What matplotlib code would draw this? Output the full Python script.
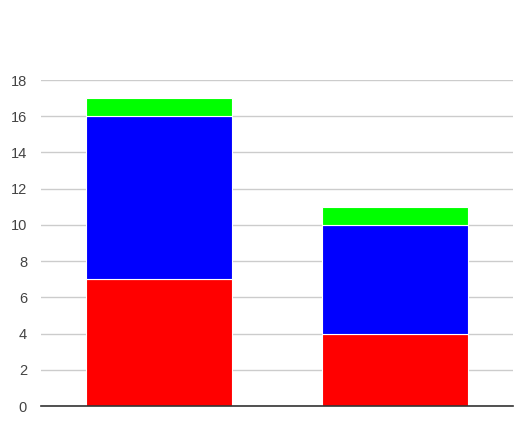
import matplotlib.pyplot as plt
import numpy as np

plt.rcParams['font.family'] = ['Liberation Sans', 'DejaVu Sans']

kategorie = ['A', 'B']
czerwone = [7, 4]
niebieskie = [9, 6]
zielone = [1, 1]
podzialka = [0, 2, 4, 6, 8, 10, 12, 14, 16, 18]

fig = plt.figure(figsize=(5.30, 4.46), dpi=100)
ax = fig.add_axes([41 / 530, 40 / 446, 472 / 530, 326 / 446])

x = np.arange(len(kategorie))
szer = 0.616
dol = np.zeros(len(kategorie))
for wartosci, kolor in [(czerwone, '#ff0000'), (niebieskie, '#0000ff'), (zielone, '#00ff00')]:
    ax.bar(x, wartosci, szer, bottom=dol, color=kolor, edgecolor='white', linewidth=0.8, zorder=3)
    dol = dol + np.array(wartosci)

ax.set_xlim(-0.5, 1.5)
ax.set_ylim(0, 18)
ax.set_yticks(podzialka)
ax.set_yticklabels([str(v) for v in podzialka], fontsize=10.5, color='#444444')
ax.set_xticks([])
ax.tick_params(axis='y', length=0, pad=10)
ax.grid(axis='y', color='#cccccc', linewidth=1, zorder=0)
for s in ['top', 'right', 'left']:
    ax.spines[s].set_visible(False)
ax.spines['bottom'].set_color('#333333')
ax.spines['bottom'].set_linewidth(1.2)
ax.spines['bottom'].set_zorder(4)

fig.savefig('out.png', dpi=100)
